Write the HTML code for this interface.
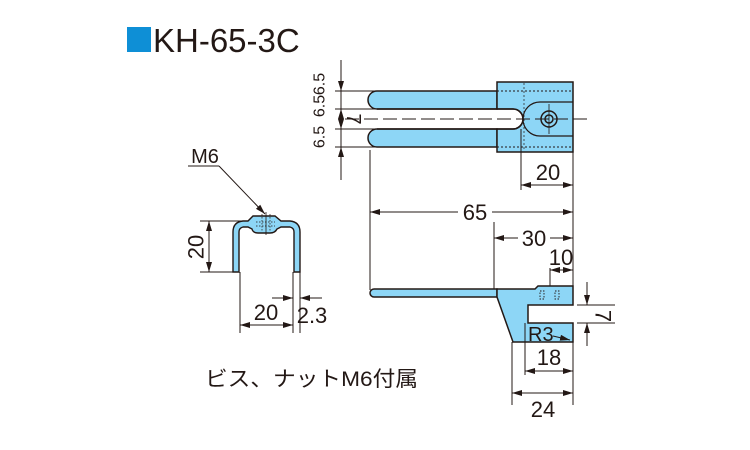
<!DOCTYPE html>
<html><head><meta charset="utf-8"><style>
html,body{margin:0;padding:0;background:#fff;}
svg{display:block;}
text{font-family:"Liberation Sans","Noto Sans CJK JP",sans-serif;fill:#231815;}
</style></head><body>
<svg width="750" height="450" viewBox="0 0 750 450" xmlns="http://www.w3.org/2000/svg">
<defs>
<marker id="a" viewBox="0 0 10 6" refX="10" refY="3" markerWidth="10" markerHeight="6" orient="auto-start-reverse" markerUnits="userSpaceOnUse"><path d="M0,0 L10,3 L0,6 Z" fill="#231815"/></marker>
</defs>
<rect x="127" y="27" width="24" height="25" fill="#0e8fd6"/>
<text x="153" y="52" font-size="33">KH-65-3C</text>

<g stroke="#231815" fill="none" stroke-width="1">
<path d="M377,91 H497 V109 H377 A9,9 0 0 1 377,91 Z" fill="#8dd6f6" stroke-width="1.5"/>
<path d="M377,129 H497 V147 H377 A9,9 0 0 1 377,129 Z" fill="#8dd6f6" stroke-width="1.5"/>
<path d="M497,82 H573 V152 H497 V147 H497 V129 H513 A10,10 0 0 0 513,109 H497 Z" fill="#8dd6f6" stroke-width="1.5"/>
<path d="M377,109 H513 A10,10 0 0 1 513,129 H377" stroke-width="1.5"/>
<path d="M573,102 H540 A17,17 0 0 0 540,136 H573" stroke-width="1.2"/>
<circle cx="549" cy="119" r="8" stroke-width="1.5"/>
<circle cx="549" cy="119" r="4" stroke-width="1.5"/>
<line x1="549" y1="104" x2="549" y2="134" stroke-width="0.8"/>
<line x1="497" y1="91" x2="573" y2="91" stroke-dasharray="2,2"/>
<line x1="497" y1="147" x2="573" y2="147" stroke-dasharray="2,2"/>
<line x1="524" y1="83" x2="524" y2="151" stroke-dasharray="2,2" stroke-width="0.7"/>
<line x1="345" y1="119" x2="590" y2="119" stroke-dasharray="14,5"/>
<line x1="341" y1="60" x2="341" y2="180"/>
<line x1="335" y1="91" x2="377" y2="91"/>
<line x1="335" y1="109" x2="377" y2="109"/>
<line x1="335" y1="129" x2="377" y2="129"/>
<line x1="335" y1="147" x2="377" y2="147"/>
<line x1="341" y1="70" x2="341" y2="91" marker-end="url(#a)"/>
<line x1="341" y1="170" x2="341" y2="147" marker-end="url(#a)"/>
<line x1="341" y1="109" x2="341" y2="117" marker-start="url(#a)"/>
<line x1="341" y1="121" x2="341" y2="129" marker-end="url(#a)"/>
<line x1="521" y1="129" x2="521" y2="190"/>
<line x1="573" y1="152" x2="573" y2="290"/>
<line x1="521" y1="185" x2="573" y2="185" marker-start="url(#a)" marker-end="url(#a)"/>
<line x1="370" y1="150" x2="370" y2="290"/>
<line x1="370" y1="212" x2="458" y2="212" marker-start="url(#a)"/>
<line x1="492" y1="212" x2="573" y2="212" marker-end="url(#a)"/>
<line x1="494" y1="222" x2="494" y2="290"/>
<line x1="494" y1="238" x2="518" y2="238" marker-start="url(#a)"/>
<line x1="550" y1="238" x2="573" y2="238" marker-end="url(#a)"/>
<line x1="550" y1="268" x2="550" y2="288"/>
<line x1="550" y1="270" x2="573" y2="270" marker-start="url(#a)" marker-end="url(#a)"/>
<path d="M374,289 H497 V297 H374 A4,4 0 0 1 374,289 Z" fill="#8dd6f6" stroke-width="1.5"/>
<path d="M497,289 H535 L538,286 H573 V305 H528 V323 H573 V342 H513 L497,297 Z" fill="#8dd6f6" stroke-width="1.5"/>
<g stroke-width="0.9">
<rect x="540" y="291" width="4" height="8" stroke-dasharray="1.5,1.5"/>
<rect x="555" y="291" width="4" height="8" stroke-dasharray="1.5,1.5"/>
</g>
<line x1="577" y1="305" x2="615" y2="305"/>
<line x1="577" y1="323" x2="615" y2="323"/>
<line x1="587" y1="282" x2="587" y2="305" marker-end="url(#a)"/>
<line x1="587" y1="346" x2="587" y2="323" marker-end="url(#a)"/>
<line x1="553" y1="336" x2="570" y2="340" marker-end="url(#a)"/>
<line x1="525" y1="323" x2="525" y2="375"/>
<line x1="573" y1="342" x2="573" y2="405"/>
<line x1="525" y1="371" x2="573" y2="371" marker-start="url(#a)" marker-end="url(#a)"/>
<line x1="512" y1="342" x2="512" y2="405"/>
<line x1="512" y1="393" x2="573" y2="393" marker-start="url(#a)" marker-end="url(#a)"/>

<path d="M233,272 V232 Q233,222 243,221 H248 L253,216 H275 L281,221 H290 Q300,222 300,232 V272 H294 V232 Q294,228 290,227 H281 L277,229 Q275,233 270,233 H258 Q253,233 252,229 L248,227 H243 Q239,228 239,232 V272 Z" fill="#8dd6f6" stroke-width="1.4"/>
<line x1="256" y1="222" x2="275" y2="222" stroke-dasharray="1.5,1.5" stroke-width="0.8"/>
<line x1="256" y1="226" x2="275" y2="226" stroke-dasharray="1.5,1.5" stroke-width="0.8"/>
<line x1="266" y1="212" x2="266" y2="235" stroke-width="0.8"/>
<line x1="262" y1="214" x2="262" y2="232" stroke-dasharray="1.5,1.5" stroke-width="0.7"/>
<line x1="270" y1="214" x2="270" y2="232" stroke-dasharray="1.5,1.5" stroke-width="0.7"/>
<line x1="188" y1="166" x2="219" y2="166"/>
<line x1="219" y1="166" x2="265" y2="214" marker-end="url(#a)"/>
<line x1="200" y1="221" x2="245" y2="221"/>
<line x1="200" y1="272" x2="233" y2="272"/>
<line x1="209" y1="221" x2="209" y2="272" marker-start="url(#a)" marker-end="url(#a)"/>
<line x1="240" y1="272" x2="240" y2="333"/>
<line x1="293" y1="272" x2="293" y2="333"/>
<line x1="300" y1="272" x2="300" y2="333"/>
<line x1="240" y1="325" x2="293" y2="325" marker-start="url(#a)" marker-end="url(#a)"/>
<line x1="272" y1="298" x2="293" y2="298" marker-end="url(#a)"/>
<line x1="322" y1="298" x2="300" y2="298" marker-end="url(#a)"/>
</g>

<g font-size="22">
<text x="320" y="84" transform="rotate(-90 320 84)" text-anchor="middle" dominant-baseline="central" font-size="16">6.5</text>
<text x="320" y="106" transform="rotate(-90 320 106)" text-anchor="middle" dominant-baseline="central" font-size="16">6.5</text>
<text x="320" y="137" transform="rotate(-90 320 137)" text-anchor="middle" dominant-baseline="central" font-size="16">6.5</text>
<text x="353" y="119" transform="rotate(90 353 119)" text-anchor="middle" dominant-baseline="central" font-size="20">7</text>
<text x="548" y="180" text-anchor="middle">20</text>
<text x="475" y="220" text-anchor="middle">65</text>
<text x="534" y="246" text-anchor="middle">30</text>
<text x="561" y="265" text-anchor="middle">10</text>
<text x="603" y="316" transform="rotate(90 603 316)" text-anchor="middle" dominant-baseline="central">7</text>
<text x="528" y="341" font-size="20">R3</text>
<text x="549" y="365" text-anchor="middle">18</text>
<text x="543" y="417" text-anchor="middle">24</text>
<text x="205" y="163" text-anchor="middle" font-size="20">M6</text>
<text x="196" y="247" transform="rotate(-90 196 247)" text-anchor="middle" dominant-baseline="central">20</text>
<text x="266" y="320" text-anchor="middle">20</text>
<text x="312" y="323" text-anchor="middle">2.3</text>
</g>
<text x="205" y="386" font-size="21" textLength="213" lengthAdjust="spacingAndGlyphs">ビス、ナットM6付属</text>
</svg>
</body></html>
